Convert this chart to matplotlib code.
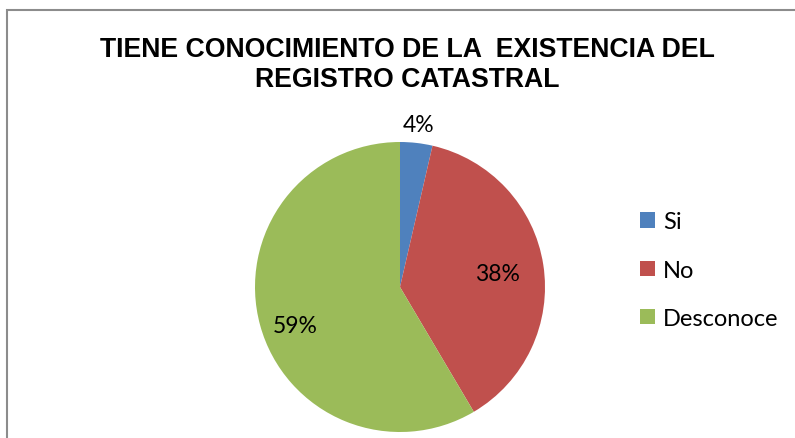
import matplotlib
matplotlib.use("Agg")
import matplotlib.pyplot as plt
import numpy as np
from matplotlib.patches import Rectangle, Patch

title = "TIENE CONOCIMIENTO DE LA  EXISTENCIA DEL\nREGISTRO CATASTRAL"
categories = ["Si", "No", "Desconoce"]
values = [3.6, 37.9, 58.5]
pct_labels = ["4%", "38%", "59%"]
colors = ["#4F81BD", "#C0504D", "#9BBB59"]

W, H = 795, 439
fig = plt.figure(figsize=(W / 100, H / 100), dpi=100)

# outer chart frame (right and bottom edges fall outside the image)
fig.patches.append(Rectangle((7 / W, -0.1), 1.2, 1 - 11 / H + 0.1,
                             transform=fig.transFigure, fill=False,
                             ec="#8c8c8c", lw=1.5))

fig.text(407 / W, 1 - 65 / H, title, ha="center", va="center",
         family="Liberation Sans", weight="bold", fontsize=19.2,
         linespacing=1.2)

cx, cy, r = 400, 288, 145
ax = fig.add_axes([(cx - r) / W, (H - cy - r) / H, 2 * r / W, 2 * r / H])
wedges, _ = ax.pie(values, colors=colors, startangle=90, counterclock=False,
                   radius=1)
ax.set_xlim(-1, 1)
ax.set_ylim(-1, 1)

# label distance from centre and extra vertical nudge (axes units)
dist = [1.13, 0.68, 0.75]
nudge = [0.0, -0.01, -0.07]
for w, lab, d, dy in zip(wedges, pct_labels, dist, nudge):
    ang = np.deg2rad((w.theta1 + w.theta2) / 2)
    ax.text(d * np.cos(ang), d * np.sin(ang) + dy, lab, ha="center",
            va="center", fontsize=16.5, family="Lato")

handles = [Patch(fc=c, ec="none") for c in colors]
fig.legend(handles, categories, loc="center left",
           bbox_to_anchor=(619 / W, 1 - 271 / H), frameon=False,
           prop={"family": "Lato", "size": 17}, handlelength=0.62,
           handleheight=0.62, handletextpad=0.35, labelspacing=1.15)

fig.savefig("out.png", dpi=100)
